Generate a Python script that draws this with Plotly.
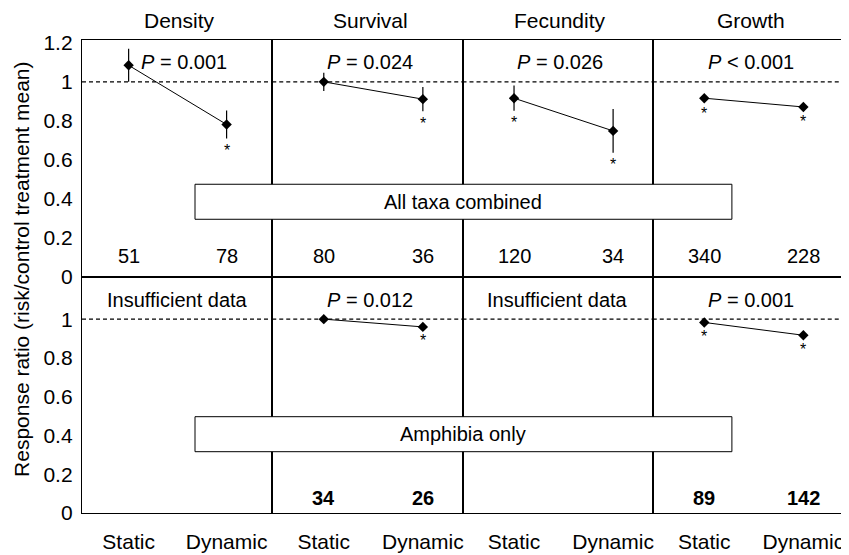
import plotly.graph_objects as go
from plotly.subplots import make_subplots

traits = ["Density", "Survival", "Fecundity", "Growth"]
treatments = ["Static", "Dynamic"]

# All taxa combined (top row)
all_means = [[1.085, 0.781], [1.0, 0.911], [0.916, 0.748], [0.916, 0.871]]
all_err = [[0.085, 0.072], [0.047, 0.062], [0.065, 0.112], [0.015, 0.015]]
all_sig = [[False, True], [False, True], [True, True], [True, True]]
all_n = [[51, 78], [80, 36], [120, 34], [340, 228]]
all_p = ["<i>P</i> = 0.001", "<i>P</i> = 0.024", "<i>P</i> = 0.026", "<i>P</i> < 0.001"]

# Amphibia only (bottom row)
amph_means = [None, [1.0, 0.96], None, [0.983, 0.917]]
amph_err = [None, [0.015, 0.01], None, [0.012, 0.012]]
amph_sig = [None, [False, True], None, [True, True]]
amph_n = [None, [34, 26], None, [89, 142]]
amph_p = ["Insufficient data", "<i>P</i> = 0.012", "Insufficient data", "<i>P</i> = 0.001"]

row_labels = ["All taxa combined", "Amphibia only"]
ytick_top = [0, 0.2, 0.4, 0.6, 0.8, 1, 1.2]
ytick_bottom = [0, 0.2, 0.4, 0.6, 0.8, 1]

FONT = "Liberation Sans, Arial, Helvetica, sans-serif"
FS = 20
FT = 21
xpos = [1, 2]

fig = make_subplots(rows=2, cols=4, horizontal_spacing=0, vertical_spacing=0)

rows = [
    (all_means, all_err, all_sig, all_n, all_p, 0.103, False),
    (amph_means, amph_err, amph_sig, amph_n, amph_p, 0.078, True),
]

for r, (means, errs, sigs, ns, ps, ny, nbold) in enumerate(rows, start=1):
    for c in range(4):
        idx = (r - 1) * 4 + c + 1
        xr = "x" if idx == 1 else f"x{idx}"
        yr = "y" if idx == 1 else f"y{idx}"
        # dashed reference line at 1
        fig.add_shape(type="line", xref=f"{xr} domain", yref=yr, x0=0, x1=1, y0=1, y1=1,
                      line=dict(color="black", width=1.2, dash="4px,3px"))
        # P text / insufficient
        px = 0.534 if (c == 0 and r == 1) else (0.5 if ps[c].startswith("Ins") else 0.515)
        fig.add_annotation(xref=f"{xr} domain", yref=yr, x=px, y=1.10, text=ps[c],
                           showarrow=False, xanchor="center", yanchor="middle",
                           font=dict(size=FS, color="black", family=FONT))
        if means[c] is None:
            continue
        fig.add_trace(go.Scatter(
            x=xpos, y=means[c], mode="lines+markers",
            line=dict(color="black", width=1),
            marker=dict(symbol="diamond", size=8, color="black"),
            error_y=dict(type="data", array=errs[c], width=0, thickness=1.2, color="black"),
            showlegend=False, hoverinfo="skip"), row=r, col=c + 1)
        for i in range(2):
            if sigs[c][i]:
                fig.add_annotation(xref=xr, yref=yr, x=xpos[i], y=means[c][i] - errs[c][i],
                                   text="*", showarrow=False, xanchor="center", yanchor="middle",
                                   yshift=-12, font=dict(size=16, color="black", family=FONT))
            fig.add_annotation(xref=xr, yref=yr, x=xpos[i], y=ny,
                               text=(f"<b>{ns[c][i]}</b>" if nbold else str(ns[c][i])),
                               showarrow=False, xanchor="center", yanchor="middle",
                               font=dict(size=FS, color="black", family=FONT))

axis_common = dict(showline=True, mirror=True, linecolor="black", linewidth=1.4,
                   showgrid=False, zeroline=False, automargin=False)
for idx in range(1, 9):
    r = 1 if idx <= 4 else 2
    c = (idx - 1) % 4
    xa = "xaxis" if idx == 1 else f"xaxis{idx}"
    ya = "yaxis" if idx == 1 else f"yaxis{idx}"
    fig.layout[xa].update(range=[0.524, 2.466] if c == 0 else [0.48, 2.4], fixedrange=True,
                          tickvals=xpos if r == 2 else [],
                          ticktext=treatments if r == 2 else None,
                          showticklabels=(r == 2), ticks="", ticklabelstandoff=10,
                          tickfont=dict(size=FT, color="black", family=FONT), **axis_common)
    fig.layout[ya].update(range=[0, 1.215] if r == 1 else [0, 1.22],
                          tickvals=ytick_top if r == 1 else ytick_bottom,
                          showticklabels=(c == 0), ticks="", ticklabelstandoff=4,
                          tickfont=dict(size=FT, color="black", family=FONT), **axis_common)

# panel titles
for c, t in enumerate(traits):
    xr = "x" if c == 0 else f"x{c + 1}"
    fig.add_annotation(xref=f"{xr} domain", yref="paper", x=0.515, y=1.042, text=t,
                       showarrow=False, xanchor="center", yanchor="middle",
                       font=dict(size=FT, color="black", family=FONT))

# row label boxes
box_y = [(0.621, 0.695), (0.1296, 0.2036)]
for (y0, y1), lab in zip(box_y, row_labels):
    fig.add_shape(type="rect", xref="paper", yref="paper", x0=0.1485, x1=0.854, y0=y0, y1=y1,
                  fillcolor="white", line=dict(color="black", width=1), layer="above")
    fig.add_annotation(xref="paper", yref="paper", x=0.5013, y=(y0 + y1) / 2, text=lab,
                       showarrow=False, xanchor="center", yanchor="middle",
                       font=dict(size=FS, color="black", family=FONT))

# y title
fig.add_annotation(xref="paper", yref="paper", x=-0.0788, y=0.516,
                   text="Response ratio (risk/control treatment mean)",
                   textangle=-90, showarrow=False, xanchor="center", yanchor="middle",
                   font=dict(size=FT, color="black", family=FONT))

# page body has an 8px default margin, so the figure is sized to fit the window
fig.update_layout(width=841, height=547, margin=dict(l=74, r=6, t=32, b=42),
                  plot_bgcolor="white", paper_bgcolor="white",
                  font=dict(family=FONT, color="black"))

fig.write_html("out.html")
